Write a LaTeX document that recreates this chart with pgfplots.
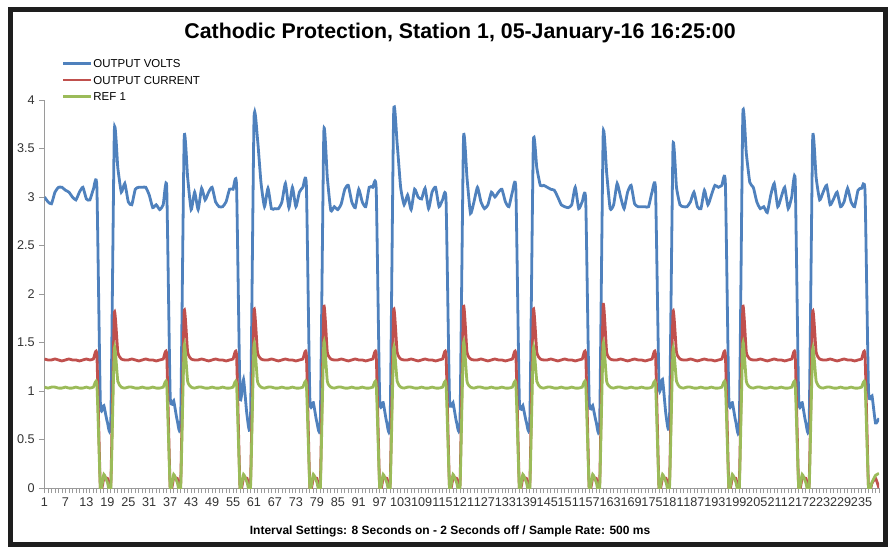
\documentclass[border=0pt]{standalone}
\usepackage{pgfplots}
\pgfplotsset{compat=1.18}
\usepackage{pgfplotstable}
\usepackage{fontspec}
\setmainfont{Liberation Sans}
\definecolor{cpblue}{HTML}{4F81BD}
\definecolor{cpred}{HTML}{C0504D}
\definecolor{cpgreen}{HTML}{9BBB59}
\definecolor{axgray}{HTML}{9A9A9A}
\definecolor{framec}{HTML}{1E1E1E}
\pgfplotstableread{
n v c r
1 3.00 1.33 1.04
2 2.95 1.32 1.03
3 2.93 1.32 1.04
4 3.05 1.33 1.04
5 3.10 1.32 1.03
6 3.10 1.31 1.03
7 3.07 1.32 1.04
8 3.05 1.33 1.03
9 3.00 1.32 1.03
10 2.97 1.32 1.04
11 3.05 1.31 1.03
12 3.10 1.32 1.03
13 2.98 1.33 1.04
14 2.97 1.32 1.03
15 3.08 1.33 1.04
16 3.10 1.37 1.07
17 0.88 0.00 0.00
18 0.85 0.10 0.14
19 0.68 0.10 0.06
20 0.70 0.05 0.00
21 3.68 1.80 1.44
22 3.30 1.40 1.10
23 3.05 1.33 1.04
24 3.14 1.32 1.03
25 2.95 1.32 1.04
26 2.92 1.33 1.04
27 3.08 1.32 1.03
28 3.10 1.31 1.03
29 3.10 1.32 1.04
30 3.10 1.33 1.03
31 3.02 1.32 1.03
32 2.89 1.32 1.04
33 2.92 1.31 1.03
34 2.87 1.32 1.03
35 2.92 1.33 1.04
36 3.10 1.37 1.07
37 0.95 0.00 0.00
38 0.90 0.10 0.14
39 0.70 0.10 0.06
40 0.70 0.05 0.00
41 3.60 1.82 1.47
42 3.20 1.40 1.10
43 2.87 1.33 1.04
44 3.05 1.32 1.03
45 2.87 1.32 1.04
46 3.09 1.33 1.04
47 2.97 1.32 1.03
48 3.05 1.31 1.03
49 3.10 1.32 1.04
50 2.95 1.33 1.03
51 2.90 1.32 1.03
52 2.90 1.32 1.04
53 2.95 1.31 1.03
54 3.08 1.32 1.03
55 3.08 1.33 1.04
56 3.12 1.37 1.07
57 0.95 0.00 0.00
58 1.12 0.10 0.14
59 0.75 0.10 0.06
60 0.70 0.05 0.00
61 3.80 1.83 1.48
62 3.60 1.40 1.10
63 3.15 1.33 1.04
64 2.90 1.32 1.03
65 3.09 1.32 1.04
66 2.88 1.33 1.04
67 2.88 1.32 1.03
68 2.88 1.31 1.03
69 2.95 1.32 1.04
70 3.14 1.33 1.03
71 2.89 1.32 1.03
72 3.10 1.32 1.04
73 2.90 1.31 1.03
74 3.05 1.32 1.03
75 3.10 1.33 1.04
76 3.12 1.37 1.07
77 0.92 0.00 0.00
78 0.88 0.10 0.14
79 0.68 0.10 0.06
80 0.70 0.05 0.00
81 3.67 1.86 1.50
82 3.20 1.40 1.10
83 2.86 1.33 1.04
84 2.90 1.32 1.03
85 2.87 1.32 1.04
86 2.93 1.33 1.04
87 3.08 1.32 1.03
88 3.12 1.31 1.03
89 2.95 1.32 1.04
90 2.89 1.33 1.03
91 3.08 1.32 1.03
92 2.95 1.32 1.04
93 2.90 1.31 1.03
94 3.10 1.32 1.03
95 3.10 1.33 1.04
96 3.08 1.37 1.07
97 0.92 0.00 0.00
98 0.88 0.10 0.14
99 0.68 0.10 0.06
100 0.70 0.05 0.00
101 3.87 1.83 1.44
102 3.55 1.40 1.10
103 3.10 1.33 1.04
104 2.92 1.32 1.03
105 3.02 1.32 1.04
106 2.87 1.33 1.04
107 3.08 1.32 1.03
108 3.00 1.31 1.03
109 2.98 1.32 1.04
110 3.09 1.33 1.03
111 2.88 1.32 1.03
112 3.05 1.32 1.04
113 3.10 1.31 1.03
114 2.90 1.32 1.03
115 2.97 1.33 1.04
116 2.97 1.37 1.07
117 0.92 0.00 0.00
118 0.88 0.10 0.14
119 0.68 0.10 0.06
120 0.70 0.05 0.00
121 3.60 1.86 1.50
122 3.20 1.40 1.10
123 2.83 1.33 1.04
124 2.95 1.32 1.03
125 3.10 1.32 1.04
126 2.95 1.33 1.04
127 2.88 1.32 1.03
128 2.92 1.31 1.03
129 3.05 1.32 1.04
130 3.00 1.33 1.03
131 3.05 1.32 1.03
132 3.08 1.32 1.04
133 2.95 1.31 1.03
134 2.90 1.32 1.03
135 3.05 1.33 1.04
136 3.08 1.37 1.07
137 0.90 0.00 0.00
138 0.85 0.10 0.14
139 0.68 0.10 0.06
140 0.70 0.05 0.00
141 3.56 1.83 1.44
142 3.30 1.40 1.10
143 3.12 1.33 1.04
144 3.12 1.32 1.03
145 3.10 1.32 1.04
146 3.08 1.33 1.04
147 3.07 1.32 1.03
148 3.00 1.31 1.03
149 2.92 1.32 1.04
150 2.90 1.33 1.03
151 2.89 1.32 1.03
152 2.92 1.32 1.04
153 3.10 1.31 1.03
154 2.88 1.32 1.03
155 2.95 1.33 1.04
156 2.97 1.37 1.07
157 0.90 0.00 0.00
158 0.85 0.10 0.14
159 0.68 0.10 0.06
160 0.68 0.05 0.00
161 3.64 1.88 1.49
162 3.25 1.40 1.10
163 2.88 1.33 1.04
164 2.92 1.32 1.03
165 3.14 1.32 1.04
166 3.00 1.33 1.04
167 2.88 1.32 1.03
168 3.05 1.31 1.03
169 3.12 1.32 1.04
170 2.93 1.33 1.03
171 2.90 1.32 1.03
172 2.90 1.32 1.04
173 2.90 1.31 1.03
174 2.90 1.32 1.03
175 3.05 1.33 1.04
176 3.08 1.37 1.07
177 1.05 0.00 0.00
178 1.12 0.10 0.14
179 0.75 0.10 0.06
180 0.70 0.05 0.00
181 3.52 1.81 1.43
182 3.10 1.40 1.10
183 2.92 1.33 1.04
184 2.90 1.32 1.03
185 2.90 1.32 1.04
186 2.95 1.33 1.04
187 3.05 1.32 1.03
188 2.90 1.31 1.03
189 2.88 1.32 1.04
190 3.07 1.33 1.03
191 2.92 1.32 1.03
192 3.02 1.32 1.04
193 3.12 1.31 1.03
194 3.10 1.32 1.03
195 3.12 1.33 1.04
196 3.14 1.37 1.07
197 0.92 0.00 0.00
198 0.88 0.10 0.14
199 0.68 0.10 0.06
200 0.68 0.05 0.00
201 3.85 1.86 1.49
202 3.45 1.40 1.10
203 3.15 1.33 1.04
204 3.10 1.32 1.03
205 2.95 1.32 1.04
206 2.88 1.33 1.04
207 2.90 1.32 1.03
208 2.84 1.31 1.03
209 3.02 1.32 1.04
210 3.14 1.33 1.03
211 2.90 1.32 1.03
212 3.00 1.32 1.04
213 3.10 1.31 1.03
214 2.88 1.32 1.03
215 3.00 1.33 1.04
216 3.17 1.37 1.07
217 0.92 0.00 0.00
218 0.88 0.10 0.14
219 0.68 0.10 0.06
220 0.68 0.05 0.00
221 3.60 1.81 1.43
222 3.20 1.40 1.10
223 2.97 1.33 1.04
224 3.05 1.32 1.03
225 3.12 1.32 1.04
226 2.92 1.33 1.04
227 2.98 1.32 1.03
228 3.05 1.31 1.03
229 2.90 1.32 1.04
230 2.95 1.33 1.03
231 3.09 1.32 1.03
232 2.95 1.32 1.04
233 2.90 1.31 1.03
234 3.07 1.32 1.03
235 3.09 1.33 1.04
236 3.05 1.37 1.07
237 1.00 0.00 0.00
238 0.95 0.05 0.06
239 0.67 0.10 0.13
240 0.72 0.00 0.15
}\cpdata
\begin{document}
\begin{tikzpicture}
\begin{axis}[
  at={(0,0)}, anchor=south west,
  width=625.875pt, height=291pt, scale only axis,
  xmin=1, xmax=240, ymin=0, ymax=4,
  axis lines*=left,
  axis line style={axgray, line width=0.75pt},
  xtick={1,7,...,235},
  minor xtick={1,...,240},
  ytick={0,0.5,1,1.5,2,2.5,3,3.5,4},
  tick align=outside,
  major tick length=3.75pt, minor tick length=3.75pt,
  every tick/.style={axgray, line width=0.6pt},
  tick label style={font=\fontsize{9.5}{11}\selectfont, text=black!80},
  /pgf/number format/assume math mode=true,
  title={Cathodic Protection, Station 1, 05-January-16 16:25:00},
  title style={at={(axis description cs:0.498,1.1374)}, anchor=base, font=\bfseries\fontsize{16}{19}\selectfont},
  xlabel={Interval Settings: 8 Seconds on - 2 Seconds off / Sample Rate: 500 ms},
  xlabel style={at={(axis description cs:0.486,-0.1211)}, anchor=base, font=\bfseries\fontsize{9}{11}\selectfont},
  legend style={at={(axis description cs:0.0205,1.108)}, anchor=north west, draw=none, fill=none,
    font=\fontsize{8.6}{10}\selectfont, inner sep=0pt, row sep=5.1pt,
    nodes={inner sep=0.6pt, text height=6.2pt, text depth=0pt}},
  legend cell align=left,
  legend image code/.code={\draw[#1] (0pt,0pt) -- (21pt,0pt);},
]
\addplot[cpblue, line width=2.1pt, smooth, tension=0.3] table[x=n, y=v]{\cpdata};
\addlegendentry{OUTPUT VOLTS}
\addplot[cpred, line width=2.1pt, smooth, tension=0.3] table[x=n, y=c]{\cpdata};
\addlegendentry{OUTPUT CURRENT}
\addplot[cpgreen, line width=2.1pt, smooth, tension=0.3] table[x=n, y=r]{\cpdata};
\addlegendentry{REF 1}
\end{axis}
\begin{scope}[x=0.75pt, y=-0.75pt, shift={(-33.375pt,366pt)}]
  \draw[framec, line width=3.6pt] (10.5,9.6) rectangle (885.6,544.6);
\end{scope}
\pgfresetboundingbox
\useasboundingbox (-33.375pt,366pt) rectangle (634.125pt,-44.25pt);
\end{tikzpicture}
\end{document}
